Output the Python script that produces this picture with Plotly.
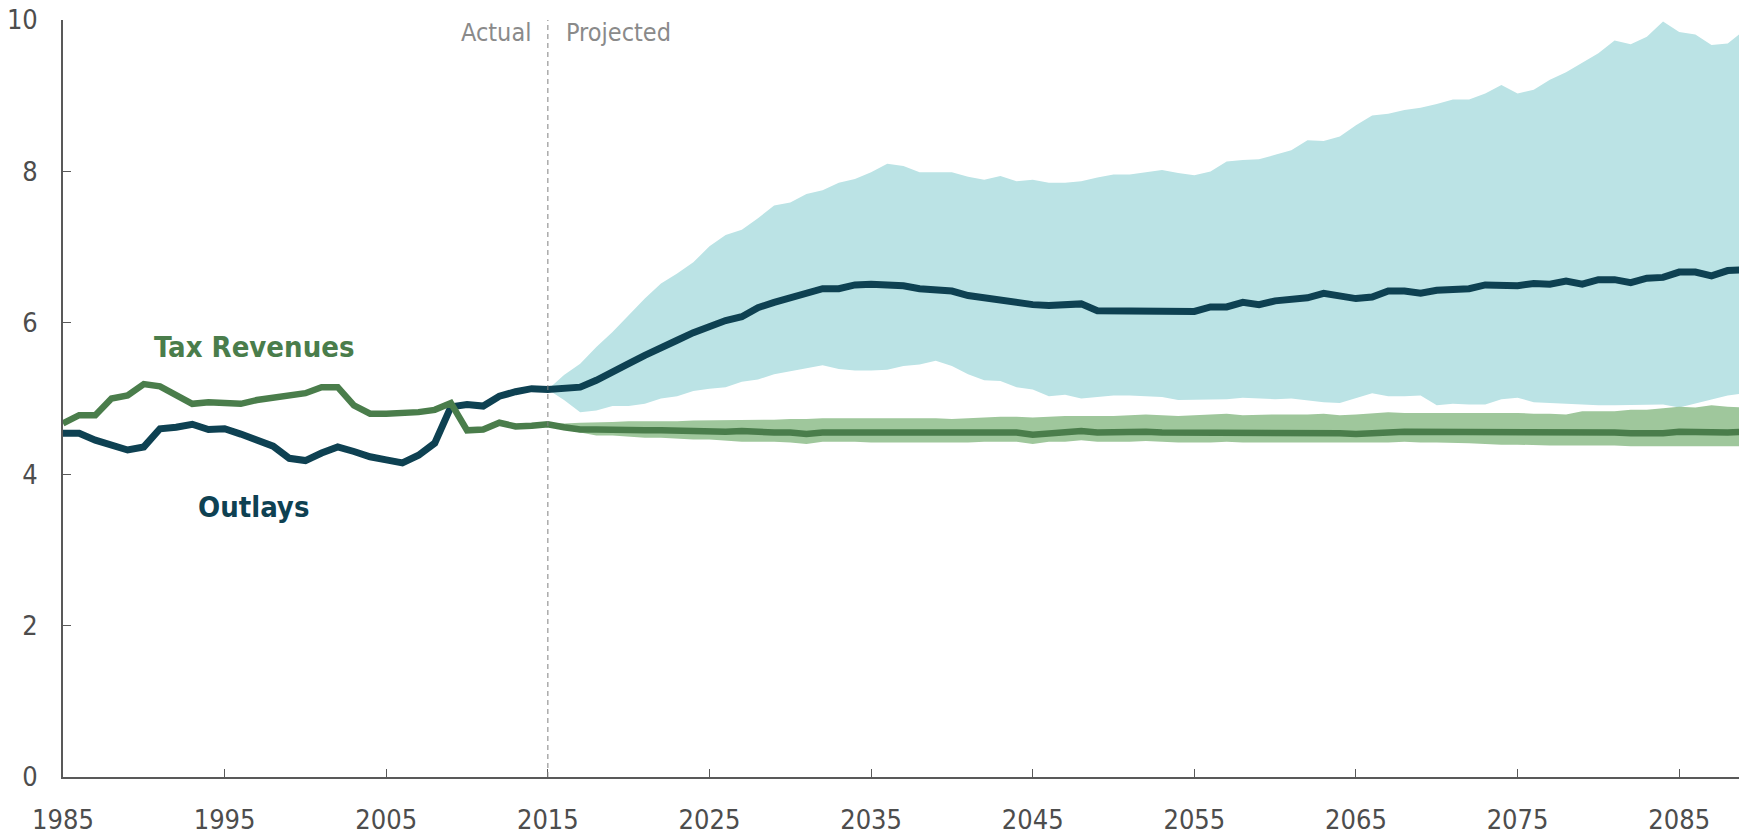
import plotly.graph_objects as go

# ---------------- data ----------------
hist_years = list(range(1985, 2016))
proj_years = list(range(2015, 2090))
all_years = list(range(1985, 2090))

outlays_hist = [4.54, 4.54, 4.45, 4.38, 4.32, 4.36, 4.60, 4.62, 4.66, 4.59, 4.60, 4.53, 4.45, 4.37, 4.21,
                4.18, 4.28, 4.36, 4.30, 4.23, 4.19, 4.15, 4.25, 4.41, 4.89, 4.92, 4.90, 5.03, 5.09, 5.13, 5.12]
outlays_proj = [5.13, 5.15, 5.24, 5.36, 5.46, 5.57, 5.68, 5.77, 5.87, 5.95, 6.03, 6.08, 6.20, 6.27, 6.33,
                6.39, 6.45, 6.45, 6.50, 6.51, 6.50, 6.49, 6.45, 6.43, 6.42, 6.36, 6.33, 6.31, 6.26, 6.24,
                6.23, 6.23, 6.25, 6.16, 6.16, 6.16, 6.14, 6.14, 6.15, 6.15, 6.21, 6.21, 6.27, 6.24, 6.29,
                6.30, 6.33, 6.39, 6.36, 6.32, 6.34, 6.42, 6.42, 6.39, 6.43, 6.45, 6.45, 6.50, 6.49, 6.49,
                6.52, 6.51, 6.55, 6.51, 6.57, 6.57, 6.53, 6.59, 6.60, 6.67, 6.67, 6.62, 6.69, 6.70]

tax_hist = [4.67, 4.78, 4.78, 5.00, 5.04, 5.19, 5.16, 5.04, 4.93, 4.95, 4.93, 4.93, 4.98, 5.01, 5.04,
            5.07, 5.15, 5.15, 4.91, 4.80, 4.80, 4.80, 4.82, 4.85, 4.94, 4.58, 4.59, 4.68, 4.63, 4.64, 4.66]
tax_proj = [4.62, 4.59, 4.59, 4.58, 4.58, 4.58, 4.58, 4.57, 4.57, 4.56, 4.56, 4.57, 4.55, 4.55, 4.55,
            4.53, 4.55, 4.55, 4.54, 4.54, 4.54, 4.54, 4.54, 4.54, 4.55, 4.55, 4.55, 4.55, 4.55, 4.52,
            4.54, 4.55, 4.57, 4.55, 4.56, 4.55, 4.56, 4.55, 4.55, 4.55, 4.55, 4.55, 4.56, 4.55, 4.54,
            4.55, 4.55, 4.55, 4.54, 4.53, 4.53, 4.55, 4.56, 4.56, 4.56, 4.55, 4.55, 4.55, 4.57, 4.55,
            4.55, 4.55, 4.55, 4.55, 4.56, 4.55, 4.54, 4.53, 4.54, 4.56, 4.55, 4.55, 4.55, 4.56]

outlays_upper = [5.12, 5.31, 5.46, 5.68, 5.88, 6.10, 6.32, 6.52, 6.65, 6.80, 7.01, 7.16, 7.23, 7.38, 7.55, 7.59,
                 7.70, 7.75, 7.85, 7.90, 7.99, 8.10, 8.07, 7.99, 7.99, 7.99, 7.93, 7.89, 7.94, 7.87, 7.89,
                 7.85, 7.85, 7.87, 7.92, 7.96, 7.96, 7.99, 8.02, 7.98, 7.95, 8.00, 8.13, 8.15, 8.16, 8.22,
                 8.28, 8.41, 8.40, 8.46, 8.61, 8.74, 8.76, 8.81, 8.84, 8.89, 8.95, 8.95, 9.03, 9.14, 9.03,
                 9.08, 9.21, 9.31, 9.44, 9.56, 9.73, 9.68, 9.78, 9.98, 9.84, 9.81, 9.67, 9.69, 9.86]
outlays_lower = [5.12, 4.98, 4.82, 4.84, 4.90, 4.90, 4.93, 5.00, 5.03, 5.10, 5.13, 5.15, 5.22, 5.25, 5.32, 5.36,
                 5.39, 5.44, 5.39, 5.37, 5.37, 5.38, 5.43, 5.45, 5.50, 5.43, 5.32, 5.24, 5.23, 5.15, 5.12,
                 5.03, 5.05, 5.00, 5.02, 5.04, 5.04, 5.03, 5.02, 4.98, 4.98, 4.99, 4.99, 5.01, 5.00, 4.99,
                 5.00, 4.97, 4.95, 4.94, 5.01, 5.07, 5.03, 5.03, 5.04, 4.91, 4.93, 4.92, 4.92, 4.99, 5.01,
                 4.95, 4.94, 4.93, 4.92, 4.91, 4.91, 4.91, 4.91, 4.92, 4.88, 4.93, 4.99, 5.04, 5.07]

tax_upper = [4.67, 4.67, 4.68, 4.68, 4.69, 4.70, 4.70, 4.70, 4.70, 4.71, 4.71, 4.72, 4.72, 4.71, 4.72, 4.73,
             4.73, 4.74, 4.74, 4.74, 4.74, 4.74, 4.75, 4.75, 4.74, 4.73, 4.74, 4.75, 4.76, 4.76, 4.75,
             4.76, 4.77, 4.77, 4.77, 4.77, 4.78, 4.79, 4.78, 4.77, 4.78, 4.79, 4.80, 4.78, 4.79, 4.79,
             4.79, 4.79, 4.80, 4.78, 4.79, 4.80, 4.82, 4.81, 4.81, 4.81, 4.82, 4.82, 4.82, 4.81, 4.81,
             4.80, 4.80, 4.79, 4.83, 4.83, 4.83, 4.85, 4.85, 4.87, 4.89, 4.88, 4.91, 4.89, 4.88]
tax_lower = [4.67, 4.59, 4.55, 4.51, 4.51, 4.50, 4.48, 4.48, 4.47, 4.46, 4.46, 4.44, 4.43, 4.43, 4.43, 4.42,
             4.40, 4.43, 4.43, 4.43, 4.42, 4.42, 4.42, 4.41, 4.41, 4.41, 4.42, 4.43, 4.43, 4.43, 4.40,
             4.43, 4.43, 4.45, 4.43, 4.43, 4.43, 4.44, 4.43, 4.42, 4.42, 4.42, 4.43, 4.42, 4.42, 4.42,
             4.42, 4.42, 4.42, 4.41, 4.41, 4.42, 4.42, 4.43, 4.42, 4.42, 4.42, 4.41, 4.40, 4.39, 4.39,
             4.38, 4.38, 4.38, 4.38, 4.38, 4.38, 4.37, 4.37, 4.37, 4.37, 4.37, 4.37, 4.37, 4.37]

x_tick_vals = [1985, 1995, 2005, 2015, 2025, 2035, 2045, 2055, 2065, 2075, 2085]
y_tick_vals = [0, 2, 4, 6, 8, 10]
divider_year = 2015

outlays = outlays_hist + outlays_proj
tax = tax_hist + tax_proj

# ---------------- styles ----------------
C_OUT = "#0e4152"
C_TAX = "#4a7d4b"
C_OUT_BAND = "#bbe3e5"
C_TAX_BAND = "#9fc79c"
C_AXIS = "#595959"
FONT = "Liberation Sans Narrow, DejaVu Sans Condensed, Roboto, sans-serif"

fig = go.Figure()

# outlays uncertainty band
fig.add_trace(go.Scatter(x=proj_years, y=outlays_lower, mode="lines", line=dict(width=0),
                         hoverinfo="skip", showlegend=False))
fig.add_trace(go.Scatter(x=proj_years, y=outlays_upper, mode="lines", line=dict(width=0),
                         fill="tonexty", fillcolor=C_OUT_BAND, hoverinfo="skip", showlegend=False))
# tax uncertainty band
fig.add_trace(go.Scatter(x=proj_years, y=tax_lower, mode="lines", line=dict(width=0),
                         hoverinfo="skip", showlegend=False))
fig.add_trace(go.Scatter(x=proj_years, y=tax_upper, mode="lines", line=dict(width=0),
                         fill="tonexty", fillcolor=C_TAX_BAND, hoverinfo="skip", showlegend=False))
# central lines
fig.add_trace(go.Scatter(x=all_years, y=outlays, mode="lines", name="Outlays",
                         line=dict(color=C_OUT, width=7), showlegend=False))
fig.add_trace(go.Scatter(x=all_years, y=tax, mode="lines", name="Tax Revenues",
                         line=dict(color=C_TAX, width=6.5), showlegend=False))

# actual / projected divider
fig.add_shape(type="line", xref="x", yref="y", x0=divider_year, x1=divider_year, y0=0, y1=10,
              line=dict(color="#808080", width=1, dash="5px,4px"), layer="above")

fig.add_annotation(x=divider_year, y=0.983, xref="x", yref="paper", text="Actual",
                   showarrow=False, xanchor="right", yanchor="middle", xshift=-15,
                   font=dict(family=FONT, size=25, color="#8a8a8a"))
fig.add_annotation(x=divider_year, y=0.983, xref="x", yref="paper", text="Projected",
                   showarrow=False, xanchor="left", yanchor="middle", xshift=16,
                   font=dict(family=FONT, size=25, color="#8a8a8a"))

fig.add_annotation(x=1990.5, y=5.68, xref="x", yref="y", text="<b>Tax Revenues</b>",
                   showarrow=False, xanchor="left", yanchor="middle",
                   font=dict(family=FONT, size=29, color=C_TAX))
fig.add_annotation(x=1993.2, y=3.57, xref="x", yref="y", text="<b>Outlays</b>",
                   showarrow=False, xanchor="left", yanchor="middle",
                   font=dict(family=FONT, size=29, color=C_OUT))

fig.update_layout(
    width=1739, height=834,
    margin=dict(l=63, r=0, t=20, b=57, autoexpand=False),
    paper_bgcolor="white", plot_bgcolor="white",
    font=dict(family=FONT, size=27, color="#4d4d4d"),
    showlegend=False,
)
fig.update_xaxes(range=[1985, 2088.7], tickvals=x_tick_vals, ticks="inside", ticklen=8,
                 tickcolor=C_AXIS, tickwidth=1.3, showline=True, linecolor=C_AXIS, linewidth=1.6,
                 showgrid=False, zeroline=False, ticklabelstandoff=18, automargin=False,
                 ticklabeloverflow="allow",
                 tickfont=dict(family=FONT, size=27, color="#4d4d4d"))
fig.update_yaxes(range=[0, 10], tickvals=y_tick_vals, ticks="inside", ticklen=8,
                 tickcolor=C_AXIS, tickwidth=1.3, showline=True, linecolor=C_AXIS, linewidth=1.6,
                 showgrid=False, zeroline=False, ticklabelstandoff=18, automargin=False,
                 ticklabeloverflow="allow",
                 tickfont=dict(family=FONT, size=27, color="#4d4d4d"))

# remove the browser's default page margin so the figure fills the window exactly
fig.write_html("out.html", config={"displayModeBar": False},
               post_script="document.body.style.margin='0';")
